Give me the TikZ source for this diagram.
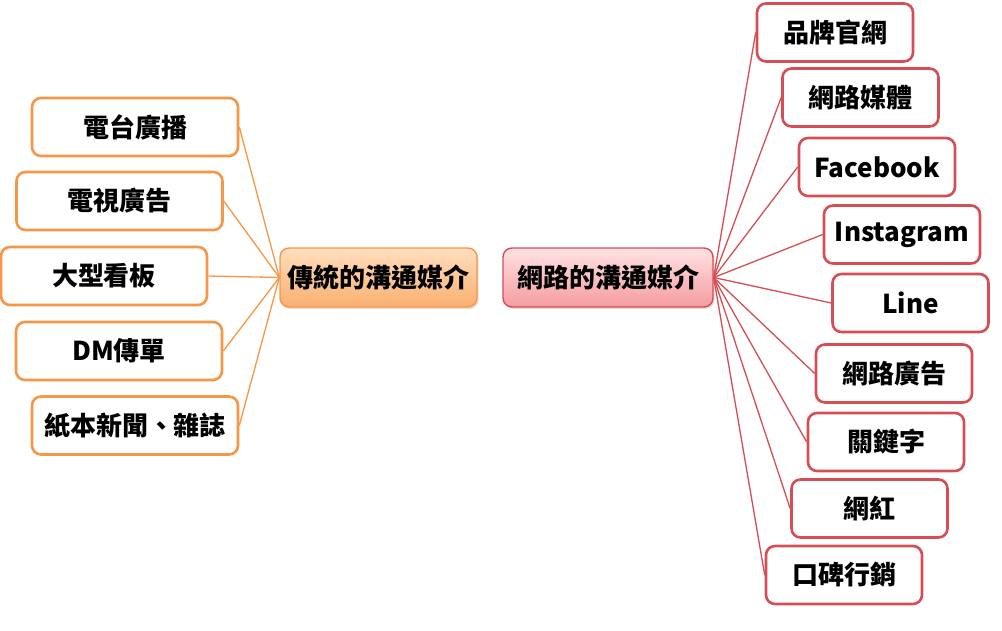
\documentclass[tikz,border=0pt]{standalone}
\usepackage{fontspec}
\setmainfont{Noto Sans CJK TC}
\usetikzlibrary{shadows}
\definecolor{orline}{RGB}{247,150,70}
\definecolor{rdline}{RGB}{214,78,84}
\definecolor{ortop}{RGB}{255,222,190}
\definecolor{orbot}{RGB}{250,176,112}
\definecolor{rdtop}{RGB}{255,226,228}
\definecolor{rdbot}{RGB}{244,156,160}
\tikzset{
  leafL/.style={draw=orline, line width=2.6pt, rounded corners=9pt, fill=white,
    minimum width=206pt, minimum height=58pt, inner sep=0pt},
  leafR/.style={draw=rdline, line width=2.6pt, rounded corners=9pt, fill=white,
    minimum width=156pt, minimum height=58pt, inner sep=0pt},
  hubL/.style={draw=orline, line width=1.4pt, rounded corners=9pt, top color=ortop, bottom color=orbot,
    minimum width=197pt, minimum height=59pt, inner sep=0pt,
    drop shadow={shadow xshift=1.5pt, shadow yshift=-2pt, opacity=0.25}},
  hubR/.style={draw=rdline, line width=1.4pt, rounded corners=9pt, top color=rdtop, bottom color=rdbot,
    minimum width=210pt, minimum height=59pt, inner sep=0pt,
    drop shadow={shadow xshift=1.5pt, shadow yshift=-2pt, opacity=0.25}},
  linkL/.style={draw=orline, line width=1.3pt},
  linkR/.style={draw=rdline, line width=1.3pt}
}
\begin{document}
\begin{tikzpicture}[x=1pt, y=-1pt, font=\bfseries\fontsize{26}{30}\selectfont]
\useasboundingbox (0,0) rectangle (1002,630);

% hubs
\node[hubL] (hl) at (378.5,277.5) {傳統的溝通媒介};
\node[hubR] (hr) at (608,277.5) {網路的溝通媒介};

% left leaves
\node[leafL] (l1) at (135,127) {電台廣播};
\node[leafL] (l2) at (119.5,201) {電視廣告};
\node[leafL] (l3) at (104,276) {大型看板};
\node[leafL] (l4) at (119,351) {DM傳單};
\node[leafL] (l5) at (135,425.5) {紙本新聞、雜誌};

% right leaves
\node[leafR] (r1) at (835,32.5) {品牌官網};
\node[leafR] (r2) at (860.5,97.5) {網路媒體};
\node[leafR] (r3) at (877,167) {Facebook};
\node[leafR] (r4) at (902,234.5) {Instagram};
\node[leafR] (r5) at (910.5,303) {Line};
\node[leafR] (r6) at (894,373.5) {網路廣告};
\node[leafR] (r7) at (886,442) {關鍵字};
\node[leafR] (r8) at (869.5,508.5) {網紅};
\node[leafR] (r9) at (844,575) {口碑行銷};

% connectors
\foreach \n in {l1,l2,l3,l4,l5}
  \draw[linkL] (\n.east) -- (hl.west);
\foreach \n in {r1,r2,r3,r4,r5,r6,r7,r8,r9}
  \draw[linkR] (hr.east) -- (\n.west);
\end{tikzpicture}
\end{document}
